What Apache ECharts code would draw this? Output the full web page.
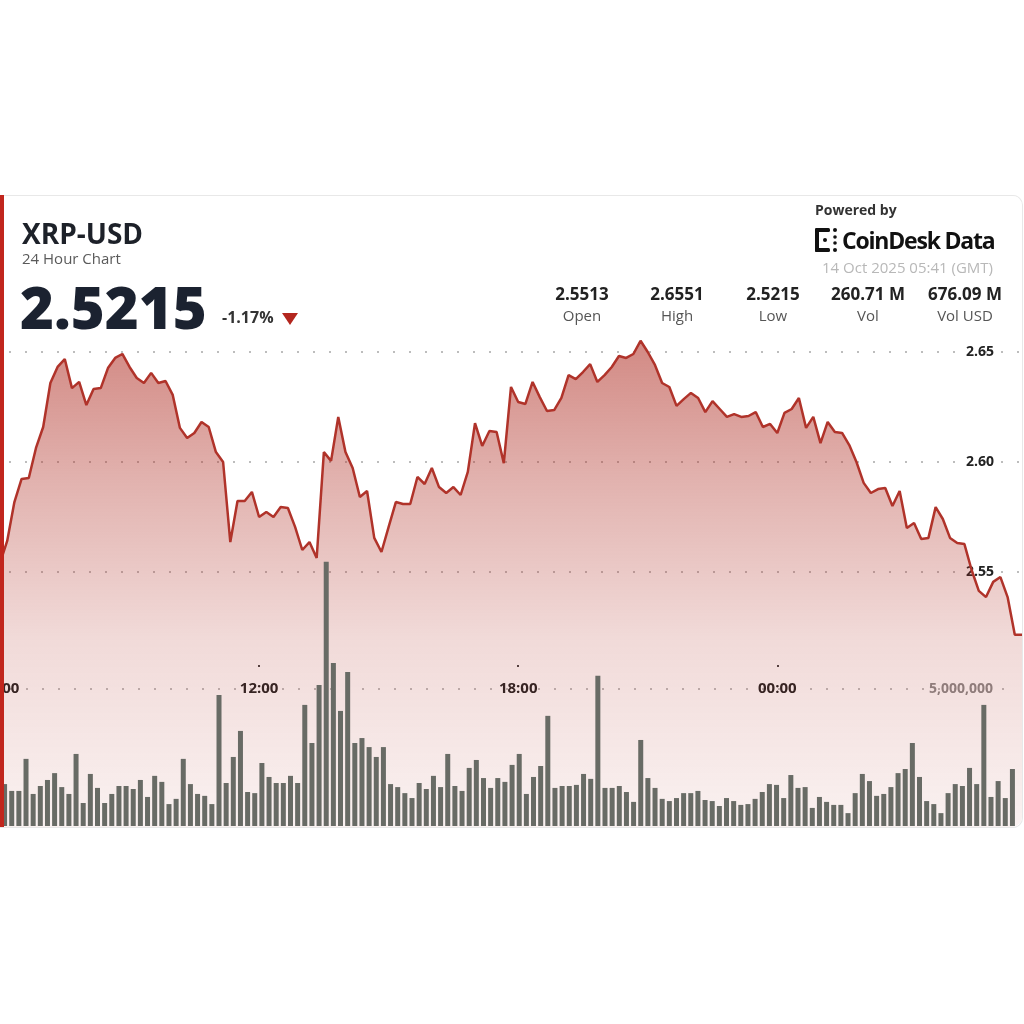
<!DOCTYPE html>
<html>
<head>
<meta charset="utf-8">
<script src="https://cdn.jsdelivr.net/npm/echarts@6/dist/echarts.min.js"></script>
<style>
  html, body { margin: 0; padding: 0; background: #fff; }
  body { width: 1024px; height: 1024px; position: relative; overflow: hidden; font-family: "Open Sans", sans-serif; }
  .t { position: absolute; white-space: nowrap; line-height: 1; }
  #card { position: absolute; left: 0; top: 195px; width: 1022px; height: 632px; border-radius: 0 10px 10px 0; overflow: hidden; background: #fff; }
  #chart { position: absolute; left: 0; top: 0; width: 1022px; height: 632px; }
  #edge { position: absolute; left: 0; top: 195px; width: 1022px; height: 631px; border: 1px solid #e8e8e8; border-left: none; border-radius: 0 10px 10px 0; pointer-events: none; }
  #redbar { position: absolute; left: 0; top: 195px; width: 4px; height: 632px; background: #c1261d; }
  .val { position: absolute; width: 120px; text-align: center; font-size: 17px; font-weight: 700; color: #222; line-height: 1; top: 285px; }
  .lab { position: absolute; width: 120px; text-align: center; font-size: 15px; color: #555; line-height: 1; top: 308px; }
</style>
</head>
<body>
<div id="card"><div id="chart"></div></div>
<div id="edge"></div>
<div id="redbar"></div>

<div class="t" style="left:22px; top:219px; font-size:28px; font-weight:700; color:#1d2129;">XRP-USD</div>
<div class="t" style="left:22px; top:251px; font-size:15px; color:#5a5a5a;">24 Hour Chart</div>
<div class="t" style="left:20px; top:278px; font-size:58px; font-weight:800; color:#1b2230;">2.5215</div>
<div class="t" style="left:222px; top:309px; font-size:16px; font-weight:700; color:#333;">-1.17%</div>
<div style="position:absolute; left:282px; top:313px; width:0; height:0; border-left:8.5px solid transparent; border-right:8.5px solid transparent; border-top:12px solid #b3261e;"></div>

<div class="t" style="left:815px; top:203px; font-size:14px; font-weight:700; color:#333;">Powered by</div>
<svg style="position:absolute; left:815px; top:228px;" width="24" height="24" viewBox="0 0 24 24">
  <rect x="0" y="0" width="4" height="24" rx="1.5" fill="#111"/>
  <rect x="0" y="0" width="15" height="4" rx="1.5" fill="#111"/>
  <rect x="0" y="20" width="15" height="4" rx="1.5" fill="#111"/>
  <circle cx="20" cy="2" r="2" fill="#111"/>
  <circle cx="20" cy="22" r="2" fill="#111"/>
  <circle cx="10" cy="12" r="2" fill="#111"/>
  <circle cx="20" cy="9" r="1.8" fill="#111"/>
  <circle cx="20" cy="15" r="1.8" fill="#111"/>
</svg>
<div class="t" style="left:842px; top:229px; font-size:23px; font-weight:700; letter-spacing:-1.2px; color:#111;">CoinDesk Data</div>
<div class="t" style="right:31px; top:260px; font-size:15px; color:#b8b8b8;">14 Oct 2025 05:41 (GMT)</div>
<div id="stats"></div>

<script>
// price every 10 minutes starting 06:00 (minutes offset from 06:00)
var prices = [
  2.5540, 2.5641, 2.5818, 2.5923, 2.5927, 2.6064, 2.6159, 2.6359, 2.6432, 2.6468,
  2.6336, 2.6364, 2.6259, 2.6332, 2.6336, 2.6427, 2.6473, 2.6491, 2.6432, 2.6382,
  2.6359, 2.6405, 2.6359, 2.6368, 2.6305, 2.6155, 2.6109, 2.6132, 2.6182, 2.6159,
  2.6045, 2.6000, 2.5636, 2.5823, 2.5823, 2.5864, 2.5750, 2.5773, 2.5750, 2.5795,
  2.5791, 2.5705, 2.5600, 2.5636, 2.5564, 2.6045, 2.6005, 2.6205, 2.6045, 2.5973,
  2.5841, 2.5868, 2.5655, 2.5591, 2.5705, 2.5818, 2.5809, 2.5809, 2.5932, 2.5900,
  2.5973, 2.5886, 2.5859, 2.5886, 2.5850, 2.5955, 2.6177, 2.6073, 2.6141, 2.6136,
  2.5995, 2.6341, 2.6273, 2.6264, 2.6364, 2.6295, 2.6232, 2.6236, 2.6291, 2.6395,
  2.6377, 2.6409, 2.6445, 2.6364, 2.6395, 2.6432, 2.6482, 2.6473, 2.6491, 2.6551,
  2.6500, 2.6441, 2.6359, 2.6341, 2.6255, 2.6286, 2.6314, 2.6291, 2.6227, 2.6277,
  2.6241, 2.6205, 2.6218, 2.6205, 2.6209, 2.6227, 2.6159, 2.6173, 2.6132, 2.6223,
  2.6241, 2.6291, 2.6155, 2.6205, 2.6086, 2.6182, 2.6136, 2.6132, 2.6077, 2.6000,
  2.5905, 2.5859, 2.5877, 2.5882, 2.5800, 2.5868, 2.5700, 2.5723, 2.5650, 2.5655,
  2.5795, 2.5741, 2.5655, 2.5632, 2.5627, 2.5509, 2.5414, 2.5386, 2.5455, 2.5477,
  2.5386, 2.5215, 2.5215
];

// volume per bar, in millions
var volumes = [
  1.53, 1.28, 1.28, 2.45, 1.17, 1.46, 1.68, 1.93, 1.42, 1.17, 2.63, 0.84, 1.90, 1.39, 0.84, 1.17,
  1.46, 1.46, 1.35, 1.68, 1.06, 1.83, 1.61, 0.80, 0.99, 2.45, 1.53, 1.17, 1.10, 0.80, 4.78, 1.57,
  2.52, 3.47, 1.24, 1.20, 2.30, 1.79, 1.57, 1.57, 1.83, 1.57, 4.42, 3.03, 5.15, 9.64,
  5.95, 4.20, 5.62, 3.03, 3.21, 2.88, 2.52, 2.88, 1.53, 1.42, 1.20, 1.02, 1.57, 1.35, 1.83, 1.42,
  2.63, 1.46, 1.28, 2.12, 2.41, 1.75, 1.39, 1.75, 1.61, 2.23, 2.63, 1.17, 1.79, 2.19, 4.02, 1.39,
  1.46, 1.46, 1.50, 1.90, 1.72, 5.48, 1.39, 1.39, 1.46, 1.24, 0.88, 3.14, 1.75, 1.39,
  0.99, 0.91, 1.02, 1.20, 1.20, 1.28, 0.95, 0.91, 0.73, 1.02, 0.91, 0.77, 0.80, 0.99, 1.24, 1.53,
  1.50, 1.02, 1.86, 1.39, 1.42, 0.66, 1.06, 0.88, 0.77, 0.77, 0.47, 1.20, 1.90, 1.64, 1.10, 1.17,
  1.42, 1.93, 2.08, 3.03, 1.79, 0.91, 0.80, 0.47, 1.20, 1.53, 1.46, 2.12, 1.53, 4.42, 1.06, 1.64,
  1.02, 2.08
];

var timeTicks = [0, 360, 720, 1080];
var timeDots = [360, 720, 1080];
var priceTicks = [2.55, 2.60, 2.65];
var volumeTicks = [5000000];

var statValues = ['2.5513', '2.6551', '2.5215', '260.71 M', '676.09 M'];
var statLabels = ['Open', 'High', 'Low', 'Vol', 'Vol USD'];
var statCenters = [582, 677, 773, 868, 965];

var statsBox = document.getElementById('stats');
statValues.forEach(function (v, i) {
  var a = document.createElement('div');
  a.className = 'val';
  a.style.left = (statCenters[i] - 60) + 'px';
  a.textContent = v;
  statsBox.appendChild(a);
  var b = document.createElement('div');
  b.className = 'lab';
  b.style.left = (statCenters[i] - 60) + 'px';
  b.textContent = statLabels[i];
  statsBox.appendChild(b);
});

function pad(n) { return (n < 10 ? '0' : '') + n; }
function fmtTime(v) {
  var m = (360 + Math.round(v)) % 1440;
  return pad(Math.floor(m / 60)) + ':' + pad(m % 60);
}

var barTimes = volumes.map(function (v, i) { return fmtTime(i * 10); });
var priceData = prices.map(function (p, i) { return [i * 10, p]; });

var T = 'rgba(0,0,0,0)';
var D = '#bdbdbd';

var chart = echarts.init(document.getElementById('chart'));
var option = {
  animation: false,
  textStyle: { fontFamily: 'Open Sans' },
  grid: [
    // price grid runs below the card edge so 2.40 sits out of view
    { left: 0, top: 47, width: 1022, height: 660, outerBoundsMode: 'none', containLabel: false },
    { left: 1, right: 6, top: 357, bottom: 1, outerBoundsMode: 'none', containLabel: false }
  ],
  xAxis: [
    {
      type: 'value',
      gridIndex: 0,
      min: 0,
      max: 1420,
      interval: 360,
      offset: -237,
      axisLine: { show: false },
      splitLine: { show: false },
      axisTick: { show: true, customValues: timeDots, length: 2, lineStyle: { color: '#444', width: 2 } },
      axisLabel: {
        customValues: timeTicks,
        formatter: fmtTime,
        margin: 16,
        color: '#222',
        fontWeight: 'bold',
        fontSize: 15,
        hideOverlap: false
      }
    },
    { type: 'category', gridIndex: 1, data: barTimes, show: false }
  ],
  yAxis: [
    {
      type: 'value',
      gridIndex: 0,
      position: 'right',
      min: 2.40,
      max: 2.70,
      interval: 0.05,
      axisLine: { show: false },
      axisTick: { show: false },
      axisLabel: {
        inside: true,
        margin: 28,
        customValues: priceTicks,
        formatter: function (v) { return v.toFixed(2); },
        color: '#222',
        fontWeight: 'bold',
        fontSize: 14
      },
      splitLine: { show: true, lineStyle: { color: [T, T, T, D, D, D, T], type: [2, 14], width: 2, dashOffset: 7 } }
    },
    {
      type: 'value',
      gridIndex: 1,
      position: 'right',
      min: 0,
      max: 10000000,
      interval: 5000000,
      axisLine: { show: false },
      axisTick: { show: false },
      axisLabel: {
        inside: true,
        margin: 23,
        customValues: volumeTicks,
        formatter: function (v) { return v.toLocaleString('en-US'); },
        color: '#8a8a8a',
        fontWeight: 'bold',
        fontSize: 14
      },
      splitLine: { show: true, lineStyle: { color: [T, D, T], type: [2, 14], width: 2, dashOffset: 7 } }
    }
  ],
  series: [
    {
      type: 'line',
      xAxisIndex: 0,
      yAxisIndex: 0,
      data: priceData,
      symbol: 'none',
      z: 2,
      lineStyle: { color: '#b0332a', width: 2.5 },
      areaStyle: {
        origin: 'start',
        color: new echarts.graphic.LinearGradient(0, 0, 0, 1, [
          { offset: 0, color: 'rgba(175,45,35,0.80)' },
          { offset: 0.25, color: 'rgba(175,45,35,0.52)' },
          { offset: 0.53, color: 'rgba(175,45,35,0.25)' },
          { offset: 0.87, color: 'rgba(175,45,35,0.09)' },
          { offset: 1, color: 'rgba(175,45,35,0.05)' }
        ])
      }
    },
    {
      type: 'bar',
      xAxisIndex: 1,
      yAxisIndex: 1,
      data: volumes.map(function (v) { return v * 1000000; }),
      barWidth: 5,
      z: 3,
      itemStyle: { color: '#686b65' }
    }
  ]
};
chart.setOption(option);
</script>
</body>
</html>
